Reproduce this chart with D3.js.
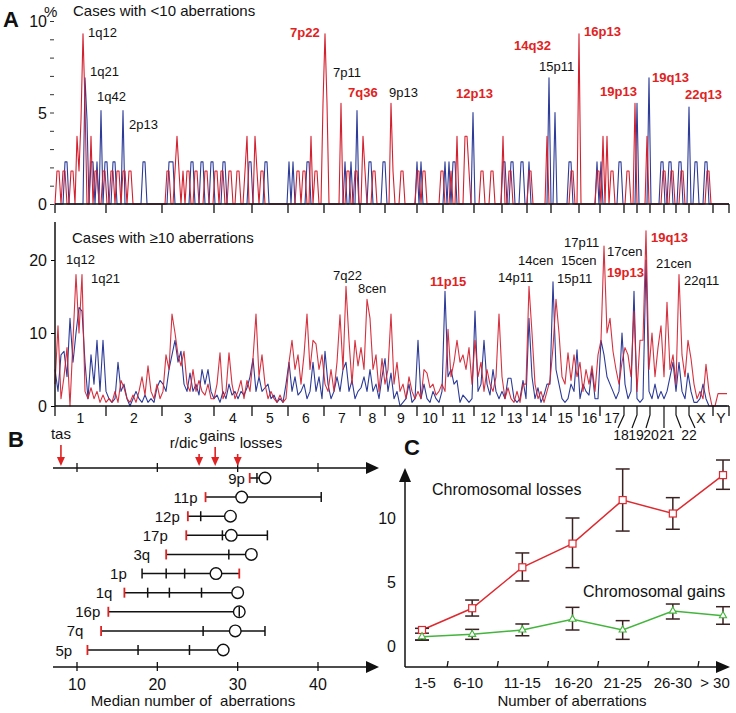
<!DOCTYPE html>
<html><head><meta charset="utf-8">
<script src="https://cdn.jsdelivr.net/npm/d3@7"></script>
<style>
body{margin:0;background:#fff;}
svg{display:block;}
text{font-family:Arial,"Liberation Sans",sans-serif;}
</style>
</head><body>
<svg id="chart" width="736" height="713"></svg>
<script>
// ---------------- DATA ----------------
// Panel A: chromosome extents along the genome axis (genome units)
const chromNames = ["1","2","3","4","5","6","7","8","9","10","11","12","13","14","15","16","17","18","19","20","21","22","X","Y"];
const chromBounds = [0,25.5,53.5,79.5,98.5,116.5,134.5,152.5,165,181,194,209.5,223.5,236,248,262,272.5,284.5,291,297.5,304.5,310.5,317,329,337];

// Cases with <10 aberrations (%), one value per genome unit
const redLt10 = [
0,1.8,1.8,0,1.8,1.8,0,0,1.8,1.8,
0,3.7,1.8,4.6,9.3,5.5,0,0,3.7,0,
1.8,1.8,0,0,1.8,1.8,0,0,1.8,1.8,
0,1.8,1.8,0,1.8,1.8,0,1.8,1.8,0,
0,0,0,0,0,0,0,0,0,0,
0,0,0,0,0,0,1.8,1.8,0,0,
1.8,3.7,1.8,0,1.8,0,1.8,1.8,0,0,
1.8,1.8,0,0,0,1.8,1.8,0,0,0,
1.8,1.8,0,1.8,1.8,0,0,1.8,1.8,0,
0,1.8,1.8,0,0,1.8,3.7,0,0,0,
3.7,1.8,0,1.8,1.8,0,0,0,0,0,
0,0,0,0,0,0,0,0,0,0,
0,1.8,1.8,0,1.8,1.8,0,0,3.7,0,
1.8,1.8,0,0,5.5,9.3,5.5,0,0,0,
0,0,0,5.5,0,0,1.8,1.8,0,0,
1.8,1.8,0,0,3.7,1.8,0,0,0,1.8,
1.8,0,0,0,0,0,0,0,5.5,1.8,
0,0,0,1.8,1.8,0,0,0,0,0,
0,1.8,1.8,0,1.8,1.8,0,0,0,0,
0,0,0,1.8,1.8,0,0,0,1.8,0,
0,3.7,0,0,0,3.7,3.7,1.8,0,0,
0,0,0,1.8,1.8,0,0,0,1.8,1.8,
0,0,0,0,3.7,0,0,1.8,1.8,0,
0,0,0,0,0,0,0,1.8,1.8,0,
0,0,0,0,0,0,3.7,0,0,0,
0,0,0,0,0,0,0,0,1.8,1.8,
0,0,9.3,0,0,0,0,0,0,0,
0,1.8,1.8,0,3.7,0,3.7,0,1.8,1.8,
0,0,0,0,0,0,1.8,1.8,0,0,
5.5,0,0,0,0,0,3.7,0,0,0,
0,0,0,0,1.8,1.8,0,0,1.8,1.8,
0,0,0,1.8,1.8,0,0,0,0,0,
0,0,0,0,0,0,1.8,1.8,0,0,
0,0,0,0,0,0,0,0];
const blueLt10 = [
0,0,0,0,0,2.3,2.3,0,0,0,
0,0,0,0,0,6.9,4.6,0,2.3,2.3,
0,2.3,0,5.1,0,2.3,2.3,0,0,2.3,
2.3,0,0,0,5.1,0,0,0,0,0,
0,0,0,0,2.3,2.3,0,0,0,0,
0,0,0,0,0,0,0,2.3,2.3,2.3,
0,0,0,0,0,0,0,0,2.3,2.3,
0,0,0,2.3,2.3,0,0,0,2.3,2.3,
0,0,0,0,2.3,2.3,0,0,0,0,
0,0,0,0,0,0,0,2.3,2.3,0,
0,0,0,0,0,2.3,2.3,0,0,0,
0,0,0,0,0,0,0,2.3,0,2.3,
0,0,0,0,0,0,2.3,2.3,0,0,
0,0,0,0,0,0,0,0,0,0,
0,0,0,0,0,2.3,0,0,2.3,0,
0,5.1,0,0,0,0,0,2.3,2.3,0,
0,0,0,0,2.3,2.3,0,0,0,0,
0,0,0,0,0,0,0,0,0,0,
0,2.3,0,2.3,0,0,0,0,0,0,
0,0,0,0,0,2.3,0,2.3,0,2.3,
2.3,0,0,0,0,0,0,0,0,5.0,
0,0,0,0,0,0,0,0,0,0,
0,0,0,0,2.3,2.3,0,0,2.3,2.3,
0,0,0,2.3,2.3,0,0,2.3,0,0,
0,0,0,0,0,0,0,6.9,0,0,
5.0,0,0,0,0,0,0,2.3,2.3,0,
0,0,0,0,0,0,0,0,0,0,
0,2.3,0,2.3,0,0,0,0,0,0,
0,0,2.3,2.3,0,0,0,0,0,0,
0,5.5,0,0,0,0,0,6.9,0,0,
0,0,0,2.3,2.3,0,0,2.3,2.3,0,
0,0,2.3,2.3,0,0,0,5.3,0,0,
2.3,2.3,0,0,0,2.3,2.3,0,0,0,
0,0,0,0,0,0,0,0];

// Cases with >=10 aberrations (%), one value per 1.5 genome units
const lowStep = 1.5;
const redGe10 = [
3,11,1,4,8,0,9,18,10,18,
2,1,2.5,1,2,0.5,1.5,0.5,1,0.5,
2,0.5,3.5,2.5,1,0.5,1.5,0.5,2,4,
1.5,5.5,2,1,3,1,2,7,5,12.6,
10,7,5.5,7.5,3,2,5,2,3.5,2,
1.5,3,1,1,3,7.3,1,2,7.3,3,
1,2,3.5,1,3.5,2,6.5,12.6,4,7,
3,1,2,1,0.5,1.5,0.5,1,6,9,
5,7,3,7,12.6,5,9,8.5,5,7,
3,2,5,2,6,12.5,5,16.4,9,3,
9,5.5,8,5,14.6,12,5,7,2,6.5,
3,5,12.6,3,6,2,3,1,4,2,
1,2,1,5,4.5,2.5,3,1.5,2,3,
2,10.5,4,6,9,6,7,5,8,3,
9,4,6,2,5,3,2,4,12.6,4,
1,2.5,1,0.5,2,0.5,3,3,16.4,10,
3,1,2,0.5,2,3.5,8,14.6,10,4,
3,7.3,3.5,7,4,6,2,5,3,5.5,
2,7,9,21.9,10,12,7.5,5,3,6,
8,7,4,13,2,9,9,24,5,10,
4,8,11,4,14.2,5,7,3,18,7,
4,9,6.5,3,1,2,1,5.7,2,0,
0,1.7,1.7,1.7,1.7];
const blueGe10 = [
5,2,7,7.5,4,12,6,10,13.5,13,
6,1,7,3,9,2,9,2,1,0.5,
1,6,2,3,1,0,1,2,1,0.5,
1.5,0.5,1,0.5,2.5,3.5,3,2,5,7,
9,6,7.5,3,2,4.5,2,3,1.5,5,
3,5,2,1,1.5,0.5,2,1,3,1.5,
2,1,2,1.5,2.5,4,6.5,2,4,2,
2.5,3,1,1.5,0.5,1,0.5,3,6,2,
4,1.5,2,3,1,2,6,2,4,1,
7.5,3,1,2,4,2,5,6,2,3.5,
1,2,2.5,4,2,5,2,3,1,4,
6.5,2,4.5,1,2,0,0.5,1,3,0.5,
1,9,1,3,1,0.5,2,1,0.5,2,
15.7,4,5,3,3.5,0.5,1.5,1,0.5,1,
13,2,3,9,3,1.5,5,2,1,2,
1,3.8,3.8,1,0.5,1,3.5,1,12,4,
1,2.5,0.5,1.5,3,3,17,5,3,1,
0.5,1,3,2,7.7,1,3,2,1.5,5,
1,1,9,7,4,3,2,1,2,10,
3,1,2,15.7,1,0.5,1,20,2,1,
3,1,2,1,2,4,6,2,6,2,
1,4.5,2,0.5,0.5,1,3,1,0,0,
0,0,0,0,0];

// Peak annotations anchored in data units (genome position, value)
const topPeakNames = ["1q12","1q21","1q42","2p13","7p22","7p11","7q36","9p13","12p13","14q32","15p11","16p13","19p13","19q13","22q13"];
const topPeakPos   = [16.5,17.5,21,37,117.5,139,146.5,167,200.5,229.5,242,264.5,272.5,298.5,315];
const topPeakVal   = [9.13,6.99,5.63,4.10,9.13,6.94,5.85,5.85,5.79,8.42,7.27,9.18,5.90,6.67,5.74];
const topPeakBold  = [0,0,0,0,1,0,1,0,1,1,0,1,1,1,1];
const lowPeakNames = ["1q12","1q21","7q22","8cen","11p15","14p11","14cen","15cen","15p11","17p11","17cen","19p13","19q13","21cen","22q11"];
const lowPeakPos   = [5.5,18,139,151.5,187.5,221.5,231.5,253,251,254.5,276,276,298,300.5,314.5];
const lowPeakVal   = [19.45,16.85,17.26,15.48,16.44,16.99,19.32,19.32,16.85,21.78,20.55,17.67,22.47,18.90,16.58];
const lowPeakBold  = [0,0,0,0,1,0,0,0,0,0,0,1,1,0,0];

// Panel B
const bRows = ["9p","11p","12p","17p","3q","1p","1q","16p","7q","5p"];
const bRed = [31.5,26.0,23.8,23.6,21.1,30.2,15.9,13.9,13.0,11.3];
const bTicks = [[32.4],[40.4],[25.4],[28.1,33.7],[28.9],[18.1,21.1,23.4],[18.8,21.5,25.5],[30.2],[25.7,33.4],[17.6,24.0]];
const bMedian = [33.4,30.5,29.1,29.2,31.7,27.3,30.0,30.2,29.7,28.2];
const bLabelEnd = [30.9,25.0,22.8,21.3,19.1,16.2,14.4,12.9,10.8,9.4];
const bArrowNames = ["tas","r/dic","gains","losses"];
const bArrowVals = [8.0,25.2,27.2,30.0];
const bTickVals = [10,20,30,40];

// Panel C
const cCats = ["1-5","6-10","11-15","16-20","21-25","26-30","> 30"];
const cLoss   = [1.25,2.95,6.15,8.0,11.4,10.35,13.35];
const cLossLo = [0.47,2.34,5.08,6.12,8.98,9.12,12.24];
const cLossHi = [1.38,3.59,7.27,10.0,13.83,11.59,14.53];
const cGain   = [0.73,0.91,1.25,2.09,1.25,2.73,2.37];
const cGainLo = [0.45,0.52,0.80,1.25,0.52,2.11,1.70];
const cGainHi = [1.0,1.30,1.72,3.02,1.98,3.28,3.07];
const cYTicks = [0,5,10];

// ---------------- DRAWING ----------------
const svg = d3.select("#chart");
const RED = "#d3202f", BLUE = "#2c3b98", LRED = "#e02222", INK = "#111";

function txt(g, s, x, y, opt = {}) {
  return g.append("text").attr("x", x).attr("y", y).text(s)
    .attr("font-size", opt.size || 13)
    .attr("font-weight", opt.bold ? "bold" : "normal")
    .attr("fill", opt.fill || INK)
    .attr("text-anchor", opt.anchor || "start");
}

// ===== Panel A =====
const gA = svg.append("g");
const xg = d3.scaleLinear().domain([0, 337]).range([55, 729]);
const yT = d3.scaleLinear().domain([0, 10]).range([204, 21]);
const yL = d3.scaleLinear().domain([0, 20]).range([406, 260]);

txt(gA, "A", 3, 27, {size: 22, bold: true});

// top series
const lineT = d3.line().x((d, i) => xg(i)).y(d => yT(d));
gA.append("path").attr("d", lineT(blueLt10)).attr("fill", "none").attr("stroke", BLUE).attr("stroke-width", 1.1).attr("stroke-linejoin", "round");
gA.append("path").attr("d", lineT(redLt10)).attr("fill", "none").attr("stroke", RED).attr("stroke-width", 1.1).attr("stroke-linejoin", "round");

// top axis
gA.append("line").attr("x1", xg(0)).attr("x2", xg(337)).attr("y1", yT(0)).attr("y2", yT(0)).attr("stroke", INK).attr("stroke-width", 1.5);
chromBounds.forEach(b => gA.append("line").attr("x1", xg(b)).attr("x2", xg(b)).attr("y1", yT(0)).attr("y2", yT(0) + 9).attr("stroke", INK).attr("stroke-width", 1.3));
const axT = gA.append("g").attr("transform", "translate(54,0)")
  .call(d3.axisLeft(yT).tickValues(d3.range(0, 11)).tickSize(4).tickFormat(""));
axT.select(".domain").remove();
axT.selectAll("line").attr("stroke", "#333");
[0, 5, 10].forEach(v => txt(gA, v, 47, yT(v) + 6, {size: 16, anchor: "end"}));
txt(gA, "%", 44, 17, {size: 15});
txt(gA, "Cases with <10 aberrations", 73, 16, {size: 15});
topPeakNames.forEach((n, i) => txt(gA, n, xg(topPeakPos[i]), yT(topPeakVal[i]), {size: 13, bold: !!topPeakBold[i], fill: topPeakBold[i] ? LRED : INK}));

// lower series
const lineL = d3.line().x((d, i) => xg(i * lowStep)).y(d => yL(d));
gA.append("path").attr("d", lineL(blueGe10)).attr("fill", "none").attr("stroke", BLUE).attr("stroke-width", 1.1).attr("stroke-linejoin", "round");
gA.append("path").attr("d", lineL(redGe10)).attr("fill", "none").attr("stroke", RED).attr("stroke-width", 1.1).attr("stroke-linejoin", "round").attr("opacity", 0.92);

// lower axes
const axL = gA.append("g").attr("transform", "translate(55,0)")
  .call(d3.axisLeft(yL).tickValues([0, 10, 20]).tickSize(4).tickPadding(4).tickSizeOuter(0));
axL.select(".domain").remove();
axL.selectAll("text").attr("font-size", 16).attr("fill", INK).attr("font-family", "Arial, 'Liberation Sans', sans-serif");
gA.append("line").attr("x1", 55).attr("x2", 55).attr("y1", yL(25.2)).attr("y2", yL(0)).attr("stroke", INK).attr("stroke-width", 1.5);
gA.append("line").attr("x1", xg(0)).attr("x2", xg(337)).attr("y1", yL(0)).attr("y2", yL(0)).attr("stroke", INK).attr("stroke-width", 1.5);
txt(gA, "Cases with \u226510 aberrations", 72, 243, {size: 15});
lowPeakNames.forEach((n, i) => txt(gA, n, xg(lowPeakPos[i]), yL(lowPeakVal[i]), {size: 13, bold: !!lowPeakBold[i], fill: lowPeakBold[i] ? LRED : INK}));

// chromosome ticks and labels
const leaderShift = {17: -6, 18: -5, 19: -4, 20: 0, 21: 5, 22: 6}; // boundary index -> slant
const smallLabelShift = {17: -9.5, 18: -7.5, 19: -6, 20: -3, 21: 6.5};
chromBounds.forEach((b, k) => {
  const x = xg(b), y0 = yL(0);
  if (leaderShift[k] !== undefined) {
    const s = leaderShift[k];
    gA.append("polyline").attr("points", `${x},${y0} ${x},${y0 + 9} ${x + s},${y0 + 22}`)
      .attr("fill", "none").attr("stroke", INK).attr("stroke-width", 1.2);
  } else {
    gA.append("line").attr("x1", x).attr("x2", x).attr("y1", y0).attr("y2", y0 + 10).attr("stroke", INK).attr("stroke-width", 1.3);
  }
});
chromNames.forEach((n, k) => {
  const mid = xg((chromBounds[k] + chromBounds[k + 1]) / 2);
  if (smallLabelShift[k] !== undefined) {
    txt(gA, n, mid + smallLabelShift[k], 440, {size: 14, anchor: "middle"});
  } else {
    txt(gA, n, mid, 423, {size: 14, anchor: "middle"});
  }
});

// ===== Panel B =====
const gB = svg.append("g");
const xB = d3.scaleLinear().domain([10, 40]).range([77, 318]);
const yB = d3.scalePoint().domain(bRows).range([478, 650]);
txt(gB, "B", 8, 447, {size: 22, bold: true});

function arrowAxis(y) {
  gB.append("line").attr("x1", 53).attr("x2", 366).attr("y1", y).attr("y2", y).attr("stroke", INK).attr("stroke-width", 1.5);
  gB.append("polygon").attr("points", `366,${y - 6} 379,${y} 366,${y + 6}`).attr("fill", INK);
  bTickVals.forEach(v => gB.append("line").attr("x1", xB(v)).attr("x2", xB(v)).attr("y1", y - 5).attr("y2", y + 4).attr("stroke", INK).attr("stroke-width", 1.3));
}
arrowAxis(468);
arrowAxis(667);
bTickVals.forEach(v => txt(gB, v, xB(v), 690, {size: 16, anchor: "middle"}));
txt(gB, "Median number of  aberrations", 193, 706, {size: 15, anchor: "middle"}).attr("xml:space", "preserve").style("white-space", "pre");

// event arrows
const arrowLayout = [{anchor: "middle", dx: 0, base: 439}, {anchor: "end", dx: -1, base: 448}, {anchor: "middle", dx: 2, base: 441}, {anchor: "start", dx: 2, base: 448}];
bArrowNames.forEach((n, i) => {
  const x = xB(bArrowVals[i]), L = arrowLayout[i];
  txt(gB, n, x + L.dx, L.base, {size: 15, anchor: L.anchor});
  gB.append("line").attr("x1", x).attr("x2", x).attr("y1", L.base + 6).attr("y2", 458).attr("stroke", LRED).attr("stroke-width", 1.6);
  gB.append("polygon").attr("points", `${x - 4},457 ${x + 4},457 ${x},466`).attr("fill", LRED);
});

bRows.forEach((r, i) => {
  const y = yB(r);
  const vals = [bRed[i], bMedian[i], ...bTicks[i]];
  gB.append("line").attr("x1", xB(d3.min(vals))).attr("x2", xB(d3.max(vals))).attr("y1", y).attr("y2", y).attr("stroke", INK).attr("stroke-width", 1.5);
  gB.append("circle").attr("cx", xB(bMedian[i])).attr("cy", y).attr("r", 5.8).attr("fill", "#fff").attr("stroke", INK).attr("stroke-width", 1.4);
  bTicks[i].forEach(v => gB.append("line").attr("x1", xB(v)).attr("x2", xB(v)).attr("y1", y - 5).attr("y2", y + 5).attr("stroke", INK).attr("stroke-width", 1.5));
  gB.append("line").attr("x1", xB(bRed[i])).attr("x2", xB(bRed[i])).attr("y1", y - 5).attr("y2", y + 5).attr("stroke", LRED).attr("stroke-width", 1.8);
  txt(gB, r, xB(bLabelEnd[i]), y + 5.5, {size: 15, anchor: "end"});
});

// ===== Panel C =====
const gC = svg.append("g");
const xC = d3.scalePoint().domain(cCats).range([422, 723]);
const yC = d3.scaleLinear().domain([0, 10]).range([646, 518]);
txt(gC, "C", 404, 455, {size: 22, bold: true});

gC.append("line").attr("x1", 405).attr("x2", 405).attr("y1", 667).attr("y2", 482).attr("stroke", INK).attr("stroke-width", 1.5);
gC.append("polygon").attr("points", "399,482 405,468 411,482").attr("fill", INK);
gC.append("line").attr("x1", 405).attr("x2", 716).attr("y1", 667).attr("y2", 667).attr("stroke", INK).attr("stroke-width", 1.5);
gC.append("polygon").attr("points", "716,661 730,667 716,673").attr("fill", INK);
cCats.slice(0, -1).forEach(c => {
  const x = xC(c) + xC.step() / 2;
  gC.append("line").attr("x1", x).attr("x2", x + 1).attr("y1", 667).attr("y2", 661).attr("stroke", INK).attr("stroke-width", 1.3);
});
cYTicks.forEach(v => txt(gC, v, 396, yC(v) + 6, {size: 16, anchor: "end"}));
const cLabelShift = [3, -4, 0, 1, 0, 0, -8];
cCats.forEach((c, i) => txt(gC, c, xC(c) + cLabelShift[i], 688, {size: 15, anchor: "middle"}));
txt(gC, "Number of aberrations", 572, 706, {size: 15, anchor: "middle"});
txt(gC, "Chromosomal losses", 432, 495, {size: 16});
txt(gC, "Chromosomal gains", 583, 597, {size: 16});

const lineC = d3.line().x((d, i) => xC(cCats[i])).y(d => yC(d));
gC.append("path").attr("d", lineC(cLoss)).attr("fill", "none").attr("stroke", "#dd2a30").attr("stroke-width", 1.5);
gC.append("path").attr("d", lineC(cGain)).attr("fill", "none").attr("stroke", "#43b53c").attr("stroke-width", 1.5);

function errBars(lo, hi) {
  cCats.forEach((c, i) => {
    const x = xC(c);
    gC.append("line").attr("x1", x).attr("x2", x).attr("y1", yC(lo[i])).attr("y2", yC(hi[i])).attr("stroke", "#3a2222").attr("stroke-width", 1.5);
    [lo[i], hi[i]].forEach(v => gC.append("line").attr("x1", x - 7).attr("x2", x + 7).attr("y1", yC(v)).attr("y2", yC(v)).attr("stroke", "#3a2222").attr("stroke-width", 1.5));
  });
}
errBars(cLossLo, cLossHi);
errBars(cGainLo, cGainHi);

cCats.forEach((c, i) => {
  gC.append("rect").attr("x", xC(c) - 3.5).attr("y", yC(cLoss[i]) - 3.5).attr("width", 7).attr("height", 7)
    .attr("fill", "#fff").attr("stroke", "#dd2a30").attr("stroke-width", 1.2);
  gC.append("path").attr("d", d3.symbol(d3.symbolTriangle, 22)())
    .attr("transform", `translate(${xC(c)},${yC(cGain[i])})`)
    .attr("fill", "#fff").attr("stroke", "#43b53c").attr("stroke-width", 1.1);
});
</script>
</body></html>
